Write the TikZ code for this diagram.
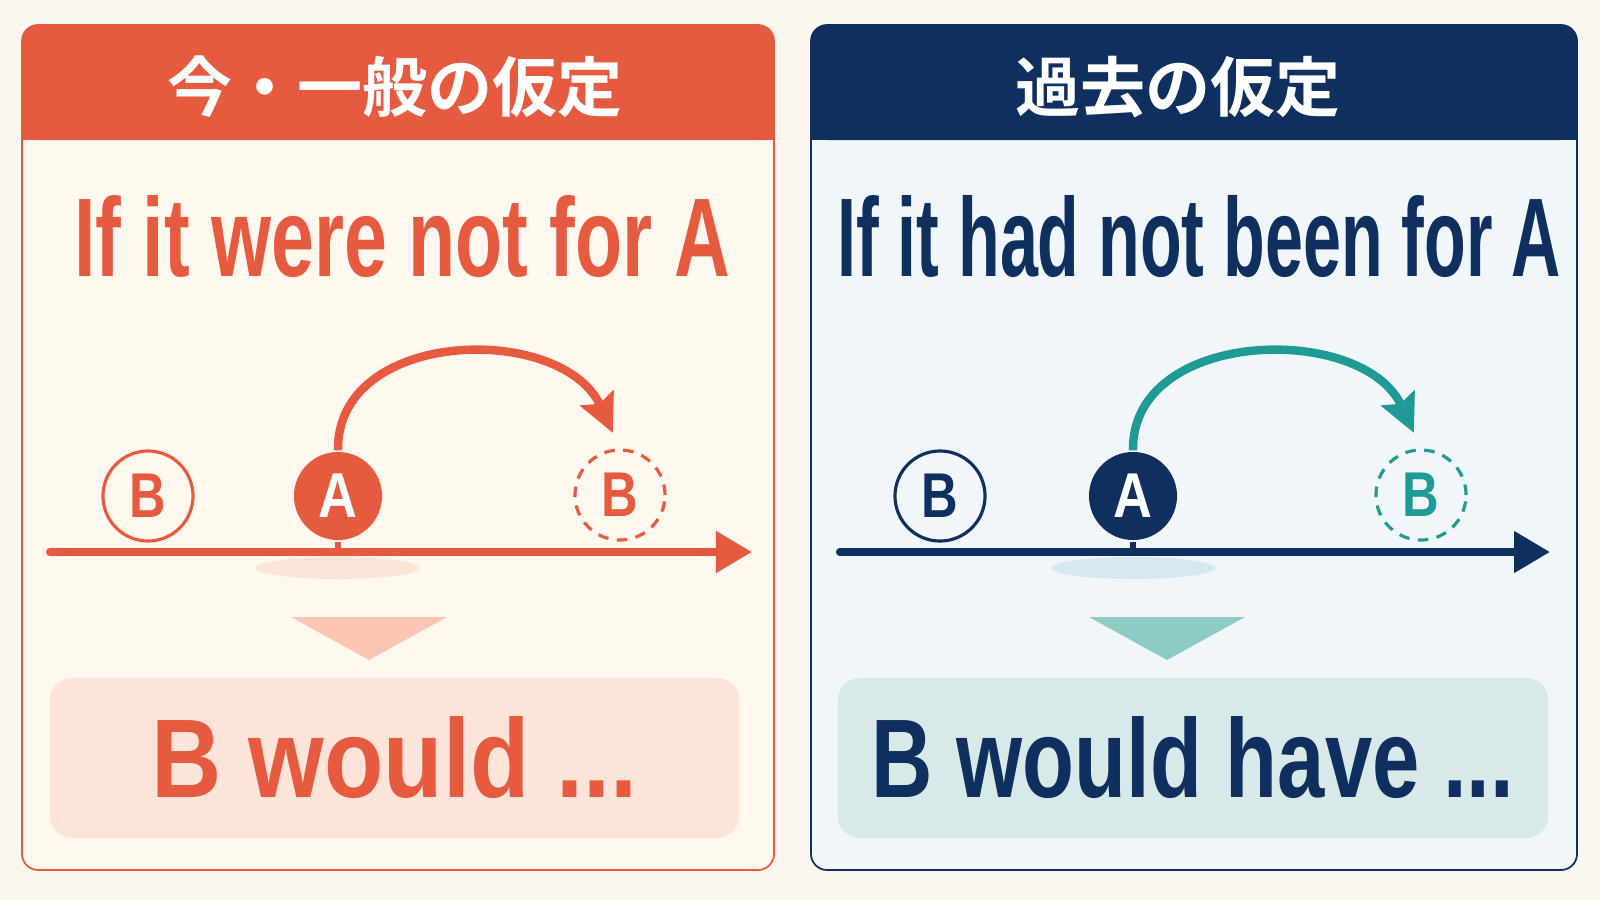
\documentclass[tikz,border=0pt]{standalone}
\usepackage{fontspec}
\usepackage{graphicx}
\setmainfont{Liberation Sans}
\newfontfamily\jpfont{Noto Sans CJK JP}[BoldFont={Noto Sans CJK JP Bold}]
\usetikzlibrary{arrows.meta}
\definecolor{bgcream}{HTML}{FCF7EE}
\definecolor{nowred}{HTML}{E65A40}
\definecolor{nowfill}{HTML}{FEF8EE}
\definecolor{nowbox}{HTML}{FDE4D8}
\definecolor{nowtri}{HTML}{FCC6B2}
\definecolor{nowshade}{HTML}{FBE4D8}
\definecolor{pastnavy}{HTML}{0F2F5E}
\definecolor{pastfill}{HTML}{F1F6FA}
\definecolor{pastteal}{HTML}{1F9A94}
\definecolor{pastbox}{HTML}{D8E9EA}
\definecolor{pasttri}{HTML}{8FCBC5}
\definecolor{pastshade}{HTML}{D8E8F0}
\newcommand{\narrow}[2]{\scalebox{#1}[1]{#2}}
\begin{document}
\begin{tikzpicture}[x=0.01cm,y=-0.01cm,
	panel/.style={rounded corners=0.16cm,line width=0.5pt},
	headtext/.style={inner sep=0pt,text=white,font=\jpfont\bfseries\fontsize{18.5pt}{20pt}\selectfont},
	title/.style={inner sep=0pt,font=\bfseries\fontsize{31.8pt}{34pt}\selectfont},
	circ/.style={circle,inner sep=0pt,minimum size=0.9cm,line width=0.9pt,font=\bfseries\fontsize{18pt}{20pt}\selectfont},
	ghost/.style={dash pattern=on 3pt off 2.4pt},
	axis/.style={line width=2.3pt,line cap=round,-{Triangle[length=0.36cm,width=0.4cm]}},
	jump/.style={line width=2.4pt,-{Stealth[length=0.38cm,width=0.36cm,inset=0.06cm]},shorten >=0.17cm},
	resbox/.style={rectangle,rounded corners=0.22cm,minimum height=1.6cm,inner sep=0pt,font=\bfseries\fontsize{31.8pt}{34pt}\selectfont}]
	\fill[bgcream] (0,0) rectangle (1600,900);
	% left panel
	\draw[panel,draw=nowred,fill=nowfill] (22,25) rectangle (774,870);
	\fill[nowred,rounded corners=0.16cm] (22,25) rectangle (774,140);
	\fill[nowred] (22,90) rectangle (774,140);
	\node[headtext] (lhead) at (395,87) {今・一般の仮定};
	\node[title,text=nowred] (ltitle) at (402,237) {\narrow{0.69}{If it were not for A}};
	\fill[nowshade] (338,568) ellipse [x radius=0.82cm,y radius=0.11cm];
	\coordinate (lS) at (50,552);
	\coordinate (lE) at (752,552);
	\draw[axis,nowred] (lS) -- (lE);
	\node[circ,draw=nowred,fill=nowfill,text=nowred] (lB) at (148,496) {\narrow{0.8}{B}};
	\node[circ,fill=nowred,text=white,minimum size=0.88cm] (lA) at (338,496) {\narrow{0.85}{A}};
	\node[circ,ghost,draw=nowred,text=nowred] (lBd) at (620,495) {\narrow{0.8}{B}};
	\draw[nowred,line width=1.5pt] (lA.south) -- (lA.south |- lS);
	\draw[jump,nowred] (lA.north) .. controls (336,328) and (562,322) .. (lBd.north);
	\fill[nowtri] (291,617) -- (447,617) -- (369,660) -- cycle;
	\node[resbox,fill=nowbox,text=nowred,minimum width=6.89cm] (lres) at (394.5,758) {\narrow{0.87}{B would ...}};
	% right panel
	\draw[panel,draw=pastnavy,fill=pastfill] (811,25) rectangle (1577,870);
	\fill[pastnavy,rounded corners=0.16cm] (811,25) rectangle (1577,140);
	\fill[pastnavy] (811,90) rectangle (1577,140);
	\node[headtext] (rhead) at (1178,87) {過去の仮定};
	\node[title,text=pastnavy] (rtitle) at (1199,237) {\narrow{0.61}{If it had not been for A}};
	\fill[pastshade] (1133,568) ellipse [x radius=0.82cm,y radius=0.11cm];
	\coordinate (rS) at (840,552);
	\coordinate (rE) at (1550,552);
	\draw[axis,pastnavy] (rS) -- (rE);
	\node[circ,draw=pastnavy,fill=pastfill,text=pastnavy] (rB) at (940,496) {\narrow{0.8}{B}};
	\node[circ,fill=pastnavy,text=white,minimum size=0.88cm] (rA) at (1133,496) {\narrow{0.85}{A}};
	\node[circ,ghost,draw=pastteal,text=pastteal] (rBd) at (1421,495) {\narrow{0.8}{B}};
	\draw[pastnavy,line width=1.5pt] (rA.south) -- (rA.south |- rS);
	\draw[jump,pastteal] (rA.north) .. controls (1131,328) and (1363,322) .. (rBd.north);
	\fill[pasttri] (1089,617) -- (1245,617) -- (1167,660) -- cycle;
	\node[resbox,fill=pastbox,text=pastnavy,minimum width=7.10cm] (rres) at (1193,758) {\narrow{0.76}{B would have ...}};
\end{tikzpicture}
\end{document}
